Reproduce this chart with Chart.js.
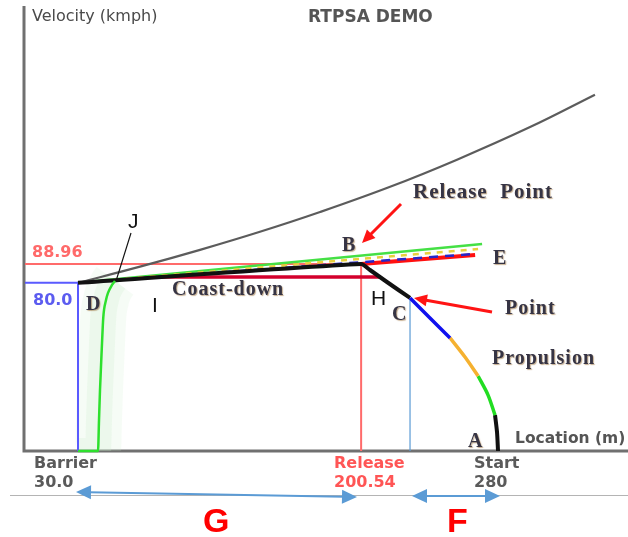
<!DOCTYPE html>
<html>
<head>
<meta charset="utf-8">
<script src="https://cdn.jsdelivr.net/npm/chart.js@4.4.0/dist/chart.umd.min.js"></script>
<style>
  html, body { margin: 0; padding: 0; background: #fff; }
  #wrap { width: 628px; height: 537px; }
</style>
</head>
<body>
<div id="wrap"><canvas id="rtpsaChart" width="628" height="537"></canvas></div>
<script>
// key locations (m) and velocities (kmph)
const BARRIER = 30.0;
const RELEASE = 200.54;
const START = 280;
const V_RELEASE = 88.96;
const V_BARRIER = 80.0;
const C_LOC = 230;
const C_VEL = 72.8;

// axis ranges
const X_MIN = -1.93;
const X_MAX = 361.3;
const Y_MAX = 211.7;

// grey upper curve
const envelopeLoc = [30, 67.35, 103.5, 139.6, 175.8, 218.0, 258.3, 302.3, 341.4];
const envelopeVel = [80, 87.7, 95.7, 104.3, 113.7, 125.7, 138.6, 154.1, 169.5];

// black run D -> B -> H -> C
const runLoc = [30, 200.54, 205.9, 216.1, 230];
const runVel = [80, 88.96, 86.1, 80.4, 72.8];

// propulsion phases, C back down to A
const propBlueLoc = [230, 242, 254.1];
const propBlueVel = [72.8, 63.3, 53.8];
const propOrangeLoc = [254.1, 263.1, 271];
const propOrangeVel = [53.8, 44.7, 35.7];
const propGreenLoc = [271, 277, 281.2];
const propGreenVel = [35.7, 26.6, 17.1];
const propStartLoc = [281.2, 282.4, 283];
const propStartVel = [17.1, 9.0, 0];

// fan of lines towards E
const fanGreenLoc = [30, 273.4];
const fanGreenVel = [80, 98.5];
const fanYellowLoc = [30, 271];
const fanYellowVel = [80, 96.1];
const fanBlueLoc = [30, 268];
const fanBlueVel = [80, 93.7];
const fanRedLoc = [200.54, 269.2];
const fanRedVel = [88.96, 93.2];

// coast-down bar
const coastLoc = [74.6, 211.9];
const coastVel = [82.8, 82.8];

// green J curve at the barrier
const jLoc = [30, 42.05, 42.65, 43.25, 44.28, 45.24, 46.87, 48.07, 50.48, 52.29];
const jVel = [0, 0, 14.7, 29.0, 48.0, 63.7, 71.8, 75.2, 79.0, 80.9];

const pts = (xs, ys) => xs.map((x, i) => ({ x: x, y: ys[i] }));

function line(data, color, width, order, extra) {
  return Object.assign({
    data: data,
    showLine: true,
    borderColor: color,
    backgroundColor: color,
    borderWidth: width,
    pointRadius: 0,
    fill: false,
    tension: 0,
    clip: false,
    order: order
  }, extra || {});
}

function txt(ctx, s, x, y, font, color, opts) {
  opts = opts || {};
  ctx.save();
  ctx.font = font;
  ctx.fillStyle = color;
  ctx.textAlign = opts.align || 'left';
  ctx.textBaseline = 'alphabetic';
  if (opts.spacing) ctx.letterSpacing = opts.spacing;
  if (opts.shadow) {
    ctx.shadowColor = 'rgba(150,105,50,0.55)';
    ctx.shadowOffsetX = 1;
    ctx.shadowOffsetY = 1;
    ctx.shadowBlur = 1;
  }
  ctx.fillText(s, x, y);
  ctx.restore();
}

function head(ctx, x1, y1, x2, y2, len, half, color) {
  const a = Math.atan2(y2 - y1, x2 - x1);
  const bx = x2 - len * Math.cos(a), by = y2 - len * Math.sin(a);
  ctx.fillStyle = color;
  ctx.beginPath();
  ctx.moveTo(x2, y2);
  ctx.lineTo(bx + half * Math.sin(a), by - half * Math.cos(a));
  ctx.lineTo(bx - half * Math.sin(a), by + half * Math.cos(a));
  ctx.closePath();
  ctx.fill();
}

function arrow(ctx, x1, y1, x2, y2, color, width, len, half, both) {
  const a = Math.atan2(y2 - y1, x2 - x1);
  ctx.save();
  ctx.strokeStyle = color;
  ctx.lineWidth = width;
  ctx.beginPath();
  ctx.moveTo(both ? x1 + (len - 2) * Math.cos(a) : x1, both ? y1 + (len - 2) * Math.sin(a) : y1);
  ctx.lineTo(x2 - (len - 2) * Math.cos(a), y2 - (len - 2) * Math.sin(a));
  ctx.stroke();
  head(ctx, x1, y1, x2, y2, len, half, color);
  if (both) head(ctx, x2, y2, x1, y1, len, half, color);
  ctx.restore();
}

const decor = {
  id: 'rtpsaDecor',
  beforeDatasetsDraw(chart) {
    const ctx = chart.ctx, a = chart.chartArea;
    ctx.save();
    ctx.strokeStyle = '#707070';
    ctx.lineWidth = 3;
    ctx.beginPath();
    ctx.moveTo(a.left - 1, a.top);
    ctx.lineTo(a.left - 1, a.bottom);
    ctx.lineTo(a.right, a.bottom);
    ctx.stroke();
    // light divider under the axis labels
    ctx.strokeStyle = '#b4b4b4';
    ctx.lineWidth = 1;
    ctx.beginPath();
    ctx.moveTo(10, 495.5);
    ctx.lineTo(628, 495.5);
    ctx.stroke();
    ctx.restore();
  },
  afterDraw(chart) {
    const ctx = chart.ctx;
    const sans = '"DejaVu Sans", sans-serif';
    const serif = 'bold 20px "Liberation Serif", serif';
    const ink = '#363444';

    txt(ctx, 'Velocity (kmph)', 32, 21, '16px ' + sans, '#4a4a4a');
    txt(ctx, 'RTPSA DEMO', 308, 22, 'bold 17px ' + sans, '#555');
    txt(ctx, '88.96', 32, 257, 'bold 16px ' + sans, '#ff6a6a');
    txt(ctx, '80.0', 33, 305, 'bold 16px ' + sans, '#5c5cf0');
    txt(ctx, 'Location (m)', 515, 443, 'bold 15.5px ' + sans, '#555');

    txt(ctx, 'Barrier', 34, 468, 'bold 16px ' + sans, '#5a5a5a');
    txt(ctx, String(BARRIER.toFixed(1)), 34, 487, 'bold 16px ' + sans, '#5a5a5a');
    txt(ctx, 'Release', 334, 468, 'bold 16px ' + sans, '#ff5555');
    txt(ctx, String(RELEASE), 334, 487, 'bold 16px ' + sans, '#ff5555');
    txt(ctx, 'Start', 474, 468, 'bold 16px ' + sans, '#5a5a5a');
    txt(ctx, String(START), 474, 487, 'bold 16px ' + sans, '#5a5a5a');

    txt(ctx, 'Release  Point', 413, 198, 'bold 21px "Liberation Serif", serif', ink, { spacing: '1px', shadow: true });
    txt(ctx, 'B', 342, 251, serif, ink, { shadow: true });
    txt(ctx, 'E', 493, 264, serif, ink, { shadow: true });
    txt(ctx, 'D', 86, 310, serif, ink, { shadow: true });
    txt(ctx, 'C', 392, 320, serif, ink, { shadow: true });
    txt(ctx, 'A', 468, 447, serif, ink, { shadow: true });
    txt(ctx, 'Coast-down', 172, 295, serif, ink, { spacing: '1px', shadow: true });
    txt(ctx, 'Point', 505, 314, serif, ink, { spacing: '1px', shadow: true });
    txt(ctx, 'Propulsion', 492, 364, serif, ink, { spacing: '1px', shadow: true });

    txt(ctx, 'J', 128, 228, '21px "Liberation Sans", sans-serif', '#111');
    txt(ctx, 'H', 371, 305, '21px "Liberation Sans", sans-serif', '#111');
    txt(ctx, 'I', 152, 312, '21px "Liberation Sans", sans-serif', '#111');

    // pointer from J to the curve
    ctx.save();
    ctx.strokeStyle = '#111';
    ctx.lineWidth = 1.2;
    ctx.beginPath();
    ctx.moveTo(131, 233);
    ctx.lineTo(116, 281);
    ctx.stroke();
    ctx.restore();

    // red call-out arrows
    arrow(ctx, 401, 204, 362, 243, '#ff1414', 3, 13, 6, false);
    arrow(ctx, 492, 312, 414, 298, '#ff1414', 3, 13, 6, false);

    // spans G and F
    arrow(ctx, 76, 492, 357, 497, '#5b9bd5', 2, 15, 7, true);
    arrow(ctx, 412, 496, 500, 496, '#5b9bd5', 2, 15, 7, true);
    txt(ctx, 'G', 203, 532, 'bold 34px "Liberation Sans", sans-serif', '#ff0000');
    txt(ctx, 'F', 447, 532, 'bold 34px "Liberation Sans", sans-serif', '#ff0000');
  }
};

// higher order = drawn further back
const datasets = [
  line(pts(jLoc, jVel), 'rgba(200,238,200,0.16)', 46, 21, { cubicInterpolationMode: 'monotone', clip: 0, borderCapStyle: 'butt' }),
  line(pts(jLoc, jVel), 'rgba(200,238,200,0.22)', 26, 20, { cubicInterpolationMode: 'monotone', clip: 0, borderCapStyle: 'butt' }),
  line([{ x: X_MIN, y: V_RELEASE }, { x: RELEASE, y: V_RELEASE }, { x: RELEASE, y: 0 }], '#ff6b6b', 2, 15),
  line([{ x: X_MIN, y: V_BARRIER }, { x: BARRIER, y: V_BARRIER }, { x: BARRIER, y: 0 }], '#5a5aff', 2, 15),
  line([{ x: C_LOC, y: C_VEL }, { x: C_LOC, y: 0 }], '#5b9bd5', 1.2, 15),
  line(pts(coastLoc, coastVel), '#d3002c', 3.5, 13),
  line(pts(fanRedLoc, fanRedVel), '#ff1010', 4, 12),
  line(pts(fanGreenLoc, fanGreenVel), '#45e045', 2.5, 11),
  line(pts(fanYellowLoc, fanYellowVel), '#e9cf3c', 2.5, 10, { borderDash: [6, 6] }),
  line(pts(fanBlueLoc, fanBlueVel), '#2626c8', 2.5, 9, { borderDash: [9, 7] }),
  line(pts(envelopeLoc, envelopeVel), '#5c5c5c', 2.2, 6, { tension: 0.4 }),
  line(pts(runLoc, runVel), '#111111', 4, 5, { tension: 0.2 }),
  line(pts(propBlueLoc, propBlueVel), '#1010ee', 3.5, 4, { tension: 0.3 }),
  line(pts(propOrangeLoc, propOrangeVel), '#f5b130', 3.5, 4, { tension: 0.3 }),
  line(pts(propGreenLoc, propGreenVel), '#22dd22', 3.5, 4, { tension: 0.3 }),
  line(pts(propStartLoc, propStartVel), '#111111', 4, 4, { tension: 0.3 }),
  line(pts(jLoc, jVel), '#2ee02e', 2.5, 3, { cubicInterpolationMode: 'monotone' })
];

new Chart(document.getElementById('rtpsaChart'), {
  type: 'scatter',
  data: { datasets: datasets },
  options: {
    responsive: false,
    animation: false,
    events: [],
    layout: { padding: { left: 25, top: 6, right: 0, bottom: 86 } },
    plugins: { legend: { display: false }, tooltip: { enabled: false } },
    scales: {
      x: { type: 'linear', min: X_MIN, max: X_MAX, display: false },
      y: { type: 'linear', min: 0, max: Y_MAX, display: false }
    }
  },
  plugins: [decor]
});
</script>
</body>
</html>
